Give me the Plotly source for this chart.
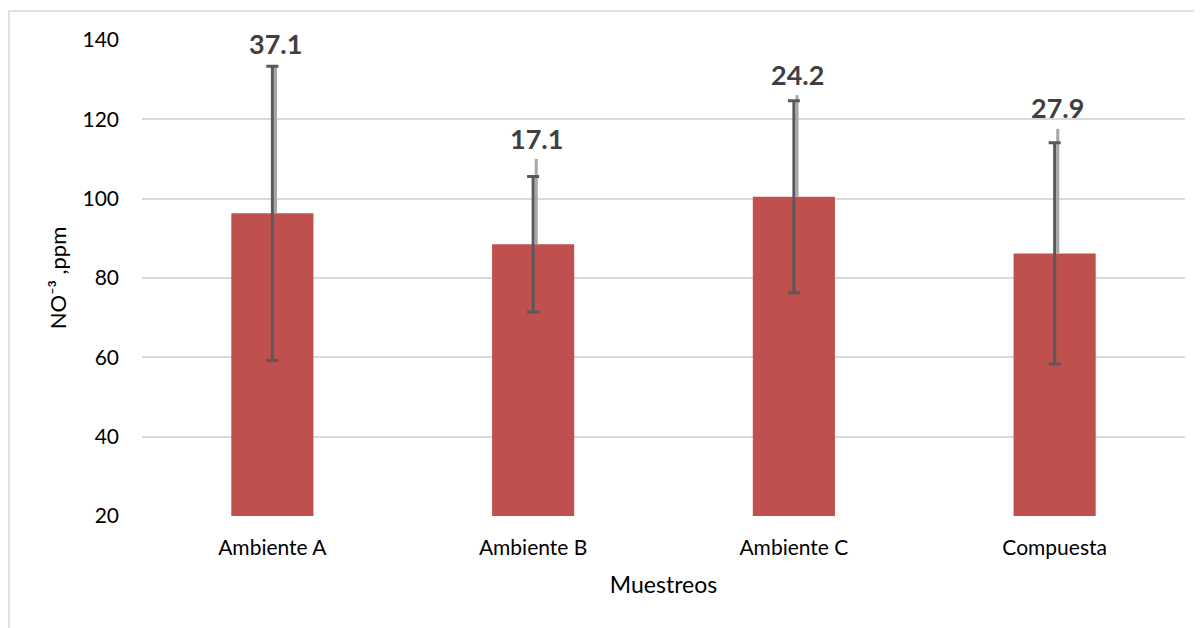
import plotly.graph_objects as go

categories = ["Ambiente A", "Ambiente B", "Ambiente C", "Compuesta"]
means = [96.3, 88.5, 100.5, 86.2]
std_dev = [37.1, 17.1, 24.2, 27.9]
upper_line = [37.4, 21.5, 25.6, 31.4]
labels = ["37.1", "17.1", "24.2", "27.9"]
y_ticks = [20, 40, 60, 80, 100, 120, 140]

xs = list(range(len(categories)))
shift = 0.012

fig = go.Figure()
fig.add_trace(go.Bar(
    x=xs, y=[m - 20 for m in means], base=20,
    marker=dict(color="#C0504D", line=dict(width=0)),
    width=0.315, showlegend=False, hoverinfo="skip",
))
fig.add_trace(go.Scatter(
    x=[x + shift for x in xs], y=means, mode="markers",
    marker=dict(size=1, opacity=0),
    error_y=dict(type="data", symmetric=False, array=upper_line,
                 arrayminus=[0] * len(means), color="#A6A6A6", thickness=3, width=0),
    showlegend=False, hoverinfo="skip",
))
fig.add_trace(go.Scatter(
    x=xs, y=means, mode="markers",
    marker=dict(size=1, opacity=0),
    error_y=dict(type="data", array=std_dev, color="#595959", thickness=3, width=6),
    showlegend=False, hoverinfo="skip",
))

for x, m, u, t in zip(xs, means, upper_line, labels):
    fig.add_annotation(x=x + shift, y=m + u, text="<b>" + t + "</b>", showarrow=False,
                       yanchor="middle", yshift=21,
                       font=dict(family="Lato", size=27, color="#404040"))

fig.add_shape(type="rect", xref="paper", yref="paper", x0=-0.1275, y0=-0.3, x1=1.05, y1=1.061,
              line=dict(color="#D9D9D9", width=1.5), fillcolor="rgba(0,0,0,0)", layer="below")

fig.update_layout(
    width=1202, height=628,
    margin=dict(l=134, r=25, t=32, b=120),
    paper_bgcolor="white", plot_bgcolor="white",
    font=dict(family="Lato", size=21, color="#000000"),
    xaxis=dict(range=[-0.5, 3.5], tickvals=xs, ticktext=categories, showgrid=False,
               zeroline=False, showline=False, ticks="", automargin=False,
               ticklabelstandoff=17,
               title=dict(text="Muestreos", font=dict(size=23), standoff=18)),
    yaxis=dict(range=[20, 140], tickvals=y_ticks, showgrid=True, gridcolor="#D9D9D9",
               gridwidth=1.5, zeroline=False, showline=False, ticks="", automargin=False,
               ticklabelstandoff=22,
               title=dict(text="NO⁻³ ,ppm", font=dict(size=22), standoff=9)),
)

fig.write_html("out.html")
